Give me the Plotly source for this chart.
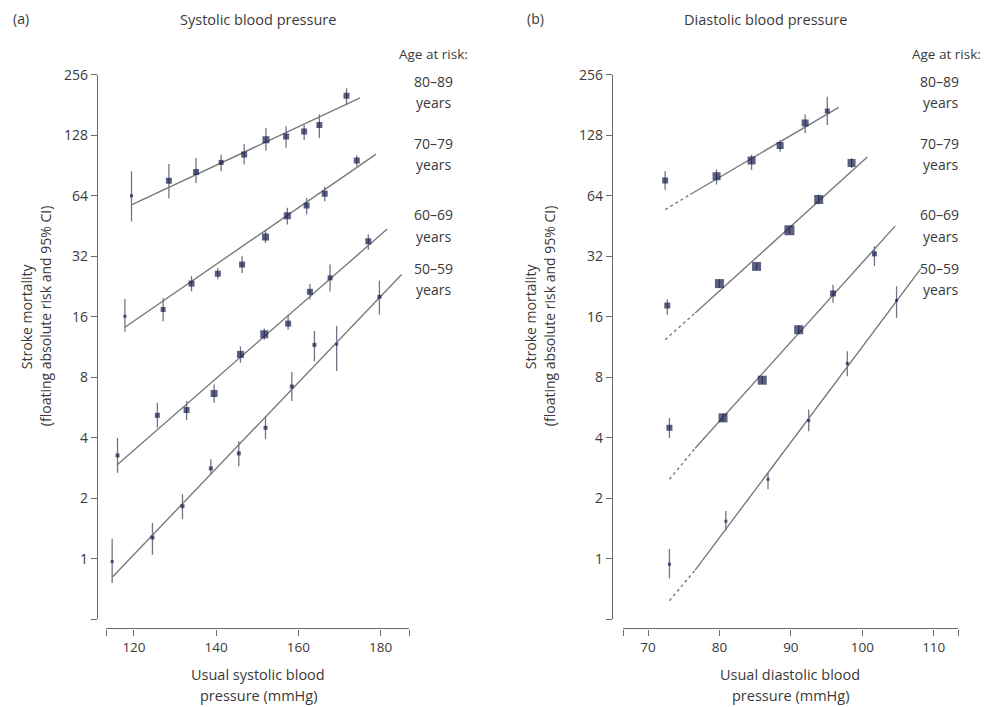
import plotly.graph_objects as go

# ---------------- data: (a) systolic ----------------
sys_x_80 = [119.4, 128.5, 135.1, 141.2, 146.8, 152.1, 157.0, 161.4, 165.1, 171.7]
sys_y_80 = [64, 76, 84, 93.5, 102.5, 121.6, 126, 133.6, 144, 201]
sys_hi_80 = [84.6, 92, 98.5, 102.4, 115.6, 139, 142, 144, 162, 219]
sys_lo_80 = [47.7, 62, 74, 84.6, 91.4, 107, 111, 121, 124, 181]

sys_x_70 = [117.8, 127.1, 134.0, 140.4, 146.3, 152.0, 157.3, 162.0, 166.4, 174.2]
sys_y_70 = [16.1, 17.4, 23.4, 26.2, 29.1, 39.9, 50.9, 57.3, 65.5, 95.9]
sys_hi_70 = [19.6, 19.8, 25.5, 28, 32, 43.4, 55.7, 62.3, 71, 101.6]
sys_lo_70 = [13.5, 15.2, 21.4, 24.6, 26.4, 37.3, 46, 51.6, 60, 89.6]

sys_x_60 = [116.0, 125.7, 132.8, 139.5, 145.9, 151.7, 157.5, 162.8, 167.7, 177.0]
sys_y_60 = [3.27, 5.18, 5.5, 6.65, 10.4, 13.1, 14.8, 21.3, 25, 38]
sys_hi_60 = [4.0, 5.98, 6.1, 7.37, 11.4, 14.0, 16.4, 23.3, 29.1, 41]
sys_lo_60 = [2.68, 4.49, 4.9, 5.98, 9.45, 12.3, 13.8, 19.5, 21.4, 34.5]

sys_x_50 = [114.7, 124.5, 131.8, 138.7, 145.5, 152.0, 158.4, 163.9, 169.3, 179.7]
sys_y_50 = [0.97, 1.28, 1.83, 2.82, 3.35, 4.49, 7.2, 11.6, 11.7, 20.1]
sys_hi_50 = [1.26, 1.51, 2.1, 3.13, 3.85, 5.13, 8.5, 13.6, 14.4, 24.2]
sys_lo_50 = [0.76, 1.05, 1.58, 2.64, 2.89, 3.94, 6.1, 9.6, 8.6, 16.4]

# fitted lines (endpoints)
sys_line_x = {"80": [119.4, 175.0], "70": [117.8, 178.9], "60": [116.0, 181.6], "50": [114.7, 185.1]}
sys_line_y = {"80": [57.7, 196], "70": [14.2, 103], "60": [2.95, 43.7], "50": [0.81, 26]}

# ---------------- data: (b) diastolic ----------------
dia_x_80 = [72.4, 79.6, 84.5, 88.5, 92.0, 95.1]
dia_y_80 = [76.3, 79.9, 95.7, 113.8, 147, 169]
dia_hi_80 = [84.6, 86.5, 102.4, 121, 162, 199]
dia_lo_80 = [68.6, 72.7, 86, 106, 131, 144]

dia_x_70 = [72.7, 80.0, 85.2, 89.8, 93.9, 98.5]
dia_y_70 = [18.2, 23.4, 28.5, 43.1, 61.3, 93]
dia_hi_70 = [19.5, 24.6, 29.6, 45, 65, 98.5]
dia_lo_70 = [16.4, 22.3, 27.4, 41.3, 58, 88]

dia_x_60 = [73.0, 80.5, 86.0, 91.1, 95.9, 101.7]
dia_y_60 = [4.49, 5.03, 7.74, 13.8, 20.9, 32.9]
dia_hi_60 = [5.03, 5.3, 8.1, 14.5, 23.1, 35.9]
dia_lo_60 = [4.0, 4.8, 7.4, 13.1, 18.8, 28.6]

dia_x_50 = [73.0, 80.9, 86.8, 92.5, 97.9, 104.8]
dia_y_50 = [0.94, 1.54, 2.49, 4.88, 9.38, 19.3]
dia_hi_50 = [1.12, 1.73, 2.68, 5.54, 10.8, 22.7]
dia_lo_50 = [0.80, 1.38, 2.22, 4.32, 8.1, 15.8]

# fitted lines: dashed extrapolation then solid
dia_dash_x = {"80": [72.4, 75.9], "70": [72.4, 76.6], "60": [73.0, 76.6], "50": [73.0, 76.6]}
dia_dash_y = {"80": [54.6, 64.9], "70": [12.3, 16.7], "60": [2.49, 3.55], "50": [0.62, 0.88]}
dia_solid_x = {"80": [75.9, 96.7], "70": [76.6, 100.7], "60": [76.6, 104.6], "50": [76.6, 108.2]}
dia_solid_y = {"80": [64.9, 176], "70": [16.7, 99.6], "60": [3.55, 45.2], "50": [0.88, 27.8]}

age_labels = ["80–89", "70–79", "60–69", "50–59"]

y_tickvals = [0.5, 1, 2, 4, 8, 16, 32, 64, 128, 256]
y_ticktext = ["", "1", "2", "4", "8", "16", "32", "64", "128", "256"]
sys_tickvals = [113.2, 120, 140, 160, 180, 186.9]
sys_ticktext = ["", "120", "140", "160", "180", ""]
dia_tickvals = [66.5, 70, 80, 90, 100, 110, 113.4]
dia_ticktext = ["", "70", "80", "90", "100", "110", ""]

# ---------------- styles ----------------
W, H = 1000, 707
def fx(p):
    return p / W
def fy(p):
    # compensate for the observed vertical offset/scale of the rendered page
    q = (p - 8.2) / 0.988
    return 1 - q / H

NAVY = "#151b4a"
BAR = "#707486"
LINE = "#7a7a7a"
TXT = "#3a3a3a"
FONT = "Open Sans"

sys_sizes = {
    "80": [3, 6, 6, 5, 6, 7, 6, 6, 6, 6],
    "70": [3, 5, 6, 6, 6, 7, 7, 6, 6, 6],
    "60": [4, 5, 6, 7, 7, 8, 6, 6, 5, 6],
    "50": [3, 4, 4, 4, 4, 4, 4, 4, 3, 4],
}
dia_sizes = {
    "80": [6, 8, 8, 7, 7, 5],
    "70": [6, 9, 9, 10, 9, 8],
    "60": [6, 9, 9, 9, 6, 5],
    "50": [3, 3, 3, 3, 3, 3],
}

fig = go.Figure()

def add_points(x, y, hi, lo, sizes, xa, ya):
    fig.add_trace(go.Scatter(
        x=x, y=y, mode="markers", xaxis=xa, yaxis=ya, showlegend=False,
        marker=dict(symbol="square", size=sizes, color=NAVY, line=dict(width=0)),
        error_y=dict(type="data", symmetric=False,
                     array=[h - v for h, v in zip(hi, y)],
                     arrayminus=[v - l for v, l in zip(y, lo)],
                     color=BAR, thickness=1.3, width=0),
    ))

def add_line(x, y, xa, ya, dash="solid"):
    fig.add_trace(go.Scatter(
        x=x, y=y, mode="lines", xaxis=xa, yaxis=ya, showlegend=False,
        line=dict(color=LINE, width=1.4, dash=dash),
    ))

sys_sets = {
    "80": (sys_x_80, sys_y_80, sys_hi_80, sys_lo_80),
    "70": (sys_x_70, sys_y_70, sys_hi_70, sys_lo_70),
    "60": (sys_x_60, sys_y_60, sys_hi_60, sys_lo_60),
    "50": (sys_x_50, sys_y_50, sys_hi_50, sys_lo_50),
}
dia_sets = {
    "80": (dia_x_80, dia_y_80, dia_hi_80, dia_lo_80),
    "70": (dia_x_70, dia_y_70, dia_hi_70, dia_lo_70),
    "60": (dia_x_60, dia_y_60, dia_hi_60, dia_lo_60),
    "50": (dia_x_50, dia_y_50, dia_hi_50, dia_lo_50),
}

for k, (x, y, hi, lo) in sys_sets.items():
    add_line(sys_line_x[k], sys_line_y[k], "x", "y")
    add_points(x, y, hi, lo, sys_sizes[k], "x", "y")

for k, (x, y, hi, lo) in dia_sets.items():
    add_line(dia_dash_x[k], dia_dash_y[k], "x2", "y2", dash="3px,3px")
    add_line(dia_solid_x[k], dia_solid_y[k], "x2", "y2")
    add_points(x, y, hi, lo, dia_sizes[k], "x2", "y2")

axis_common = dict(showgrid=False, zeroline=False, showline=True, linecolor="#6a6a6a",
                   linewidth=1.2, ticks="outside", ticklen=6, tickwidth=1.1,
                   tickcolor="#6a6a6a")
xtickfont = dict(family=FONT, size=13.5, color=TXT)
ytickfont = dict(family=FONT, size=14, color=TXT)

ydom = [fy(619), fy(73)]
yrange = [-0.30103, 2.40824]

fig.update_layout(
    width=W, height=H, margin=dict(l=0, r=0, t=0, b=0),
    paper_bgcolor="white", plot_bgcolor="white",
    font=dict(family=FONT, color=TXT),
    xaxis=dict(domain=[fx(106), fx(409)], range=[113.2, 186.9], anchor="free",
               position=fy(628), tickvals=sys_tickvals, ticktext=sys_ticktext,
               tickfont=xtickfont, **axis_common),
    yaxis=dict(domain=ydom, type="log", range=yrange, anchor="free", position=fx(97),
               tickvals=y_tickvals, ticktext=y_ticktext, tickfont=ytickfont, **axis_common),
    xaxis2=dict(domain=[fx(623), fx(958)], range=[66.5, 113.4], anchor="free",
                position=fy(628), tickvals=dia_tickvals, ticktext=dia_ticktext,
                tickfont=xtickfont, **axis_common),
    yaxis2=dict(domain=ydom, type="log", range=yrange, anchor="free", position=fx(612),
                tickvals=y_tickvals, ticktext=y_ticktext, tickfont=ytickfont, **axis_common),
)

def ann(text, x, y, size=13, angle=0, xanchor="center"):
    fig.add_annotation(text=text, x=fx(x), y=fy(y), xref="paper", yref="paper",
                       showarrow=False, textangle=angle, xanchor=xanchor, yanchor="middle",
                       font=dict(family=FONT, size=size, color=TXT), align="center")

ann("(a)", 21, 17, size=14)
ann("(b)", 535, 17, size=14)
ann("Systolic blood pressure", 258, 18, size=14.5)
ann("Diastolic blood pressure", 765, 18, size=14.5)
ann("Age at risk:", 433, 52, size=13.5)
ann("Age at risk:", 946, 52, size=13.5)

age_rows_y = [(80, 101), (142, 163), (213, 235), (267, 288)]
for lab, (y1, y2) in zip(age_labels, age_rows_y):
    ann(lab, 433, y1, size=14)
    ann("years", 433, y2, size=14)
    ann(lab, 939, y1, size=14)
    ann("years", 940, y2, size=14)

ann("Stroke mortality", 26, 315, size=14, angle=-90)
ann("(floating absolute risk and 95% CI)", 45, 315, size=14, angle=-90)
ann("Stroke mortality", 530, 315, size=14, angle=-90)
ann("(floating absolute risk and 95% CI)", 549, 315, size=14, angle=-90)

ann("Usual systolic blood", 258, 674, size=14.5)
ann("pressure (mmHg)", 258, 695, size=14.5)
ann("Usual diastolic blood", 790, 674, size=14.5)
ann("pressure (mmHg)", 790, 695, size=14.5)

post = ("var s=document.documentElement.style;s.margin='0';s.padding='0';s.overflow='hidden';"
        "var b=document.body.style;b.margin='0';b.padding='0';b.overflow='hidden';"
        "var d=document.getElementById('{plot_id}');"
        "var p=d.parentElement.style;p.position='absolute';p.left='0px';p.top='0px';"
        "p.width='1000px';p.height='707px';p.overflow='hidden';p.lineHeight='0';p.fontSize='0';p.margin='0';"
        "d.style.position='absolute';d.style.left='0px';d.style.top='0px';d.style.margin='0';")
fig.write_html("out.html", config={"displayModeBar": False}, post_script=post)
